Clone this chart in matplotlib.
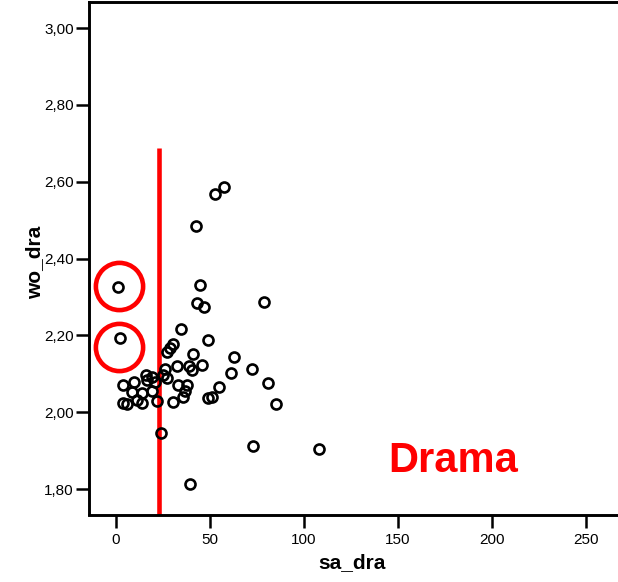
import matplotlib
matplotlib.use("Agg")
import matplotlib.pyplot as plt

plt.rcParams['font.family'] = ['Liberation Sans', 'DejaVu Sans']

# scatter values
sa_dra = [57.6, 52.8, 42.7, 44.8, 43.2, 47.0, 78.9, 34.7, 1.2, 2.3,
          49.1, 30.5, 28.9, 27.3, 41.1, 62.9, 61.3, 72.5, 81.0, 85.3,
          73.0, 108.1, 45.9, 39.0, 32.6, 40.6, 26.2, 27.3, 16.1, 19.3,
          25.2, 16.6, 20.9, 3.9, 9.7, 33.1, 37.9, 36.9, 35.8, 54.9,
          8.7, 14.0, 19.3, 3.9, 6.0, 11.3, 14.0, 22.0, 30.5, 49.1,
          51.2, 24.1, 39.5]
wo_dra = [2.586, 2.568, 2.485, 2.331, 2.284, 2.274, 2.287, 2.217, 2.326, 2.193,
          2.188, 2.178, 2.167, 2.157, 2.152, 2.144, 2.102, 2.112, 2.076, 2.021,
          1.912, 1.904, 2.123, 2.120, 2.120, 2.110, 2.112, 2.089, 2.097, 2.092,
          2.097, 2.084, 2.079, 2.071, 2.079, 2.071, 2.071, 2.055, 2.040, 2.066,
          2.053, 2.050, 2.055, 2.024, 2.021, 2.032, 2.024, 2.029, 2.027, 2.037,
          2.040, 1.946, 1.813]

# annotations
cut_x = 23
cut_top = 2.688
ring_x = [2.0, 2.0]
ring_y = [2.329, 2.170]

x_ticks = [0, 50, 100, 150, 200, 250]
y_ticks = [1.80, 2.00, 2.20, 2.40, 2.60, 2.80, 3.00]
y_labels = ["1,80", "2,00", "2,20", "2,40", "2,60", "2,80", "3,00"]

fig = plt.figure(figsize=(6.18, 5.82), dpi=100)
ax = fig.add_axes([89 / 618, 67.5 / 582, 536 / 618, 512.5 / 582])

ax.plot(sa_dra, wo_dra, linestyle='none', marker='o', ms=7.2, mew=1.9,
        mfc='none', mec='black', zorder=3)

ax.plot([cut_x, cut_x], [1.70, cut_top], color='red', lw=3.3, zorder=2,
        solid_capstyle='butt')
ax.plot(ring_x, ring_y, linestyle='none', marker='o', ms=34, mew=3.3,
        mfc='none', mec='red', zorder=4)

ax.text(179.4, 1.873, "Drama", color='red', fontsize=30, fontweight='bold',
        ha='center', va='center')

ax.set_xlim(-14.2, 271)
ax.set_ylim(1.734, 3.068)
ax.set_xticks(x_ticks)
ax.set_yticks(y_ticks)
ax.set_yticklabels(y_labels)

for s in ax.spines.values():
    s.set_linewidth(2.1)
ax.tick_params(direction='out', length=9.5, width=1.8, labelsize=11)
ax.tick_params(axis='x', pad=3.5)
ax.tick_params(axis='y', pad=1.5)

fig.text(352 / 618, 1 - 563 / 582, "sa_dra", fontsize=15, fontweight='bold',
         ha='center', va='center')
fig.text(35 / 618, 1 - 262 / 582, "wo_dra", fontsize=15, fontweight='bold',
         ha='center', va='center', rotation=90)

fig.savefig("out.png", dpi=100)
plt.close(fig)
